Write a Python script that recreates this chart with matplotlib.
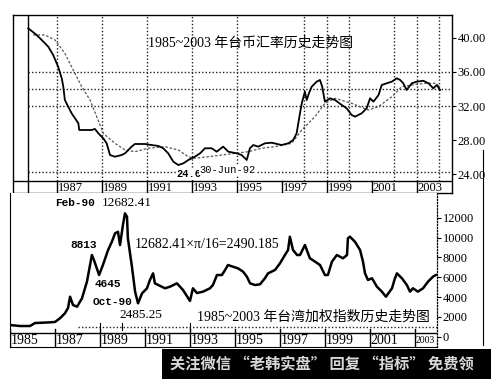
import matplotlib
matplotlib.use("Agg")
import matplotlib.pyplot as plt
from matplotlib.lines import Line2D
from matplotlib.patches import Rectangle

# --- data ---
rate_years = [1985.71, 1986.08, 1986.31, 1986.60, 1986.82, 1987.04, 1987.20, 1987.27, 1987.34, 1987.49,
              1987.64, 1987.79, 1987.94, 1987.98, 1988.23, 1988.53, 1988.68, 1988.83, 1989.05, 1989.20,
              1989.35, 1989.57, 1989.87, 1990.02, 1990.31, 1990.46, 1990.91, 1991.20, 1991.50, 1991.72,
              1991.94, 1992.17, 1992.39, 1992.62, 1992.84, 1993.13, 1993.36, 1993.58, 1993.88, 1994.10,
              1994.39, 1994.62, 1994.99, 1995.21, 1995.44, 1995.58, 1995.73, 1995.95, 1996.25, 1996.55,
              1996.99, 1997.29, 1997.51, 1997.66, 1997.81, 1997.89, 1998.03, 1998.11, 1998.21, 1998.33,
              1998.55, 1998.70, 1998.80, 1998.92, 1999.15, 1999.37, 1999.67, 1999.89, 2000.11, 2000.26,
              2000.56, 2000.78, 2000.93, 2001.08, 2001.31, 2001.45, 2001.67, 2001.90, 2002.12, 2002.27,
              2002.41, 2002.56, 2002.79, 2003.01, 2003.30, 2003.53, 2003.75, 2003.90, 2004.05]
rate_values = [41.11, 40.33, 39.74, 38.96, 37.98, 36.61, 35.26, 34.27, 32.71, 31.93,
               31.16, 30.57, 29.99, 29.20, 29.20, 29.20, 29.32, 28.81, 28.23, 27.64,
               26.27, 26.07, 26.27, 26.47, 27.25, 27.56, 27.56, 27.44, 27.33, 27.06,
               26.47, 25.49, 25.10, 25.30, 25.69, 26.07, 26.47, 27.06, 27.06, 26.66,
               27.25, 26.66, 26.47, 26.27, 25.69, 27.06, 27.44, 27.25, 27.64, 27.71,
               27.44, 27.64, 28.03, 28.81, 31.16, 32.33, 33.69, 32.71, 33.50, 34.27,
               34.86, 35.06, 34.27, 32.52, 32.91, 32.71, 32.13, 31.74, 30.96, 30.76,
               31.16, 31.74, 32.91, 32.52, 33.30, 34.47, 34.67, 34.86, 35.26, 35.06,
               34.67, 33.89, 34.67, 34.86, 34.97, 34.67, 34.08, 34.47, 33.89]

ma_years = [1985.93, 1986.45, 1986.90, 1987.34, 1987.71, 1988.09, 1988.46, 1988.76, 1989.05, 1989.57,
            1990.02, 1990.46, 1991.05, 1991.79, 1992.39, 1992.84, 1993.13, 1993.73, 1994.92, 1995.51,
            1996.10, 1996.70, 1997.44, 1997.89, 1998.18, 1998.48, 1998.92, 1999.37, 2000.11, 2000.85,
            2001.30, 2001.90, 2002.34, 2002.79, 2003.38, 2003.82, 2004.05]
ma_values = [40.33, 40.33, 39.74, 38.18, 36.23, 34.27, 32.71, 30.76, 28.81, 27.64,
             26.86, 26.66, 27.06, 27.25, 26.86, 26.07, 25.89, 26.07, 26.47, 26.66,
             27.06, 27.25, 27.64, 29.20, 29.99, 30.76, 32.33, 32.91, 32.33, 31.54,
             31.93, 33.10, 34.27, 34.47, 34.67, 34.67, 34.27]

idx_years = [1985.00, 1985.44, 1985.89, 1986.11, 1986.78, 1987.00, 1987.22, 1987.44, 1987.58, 1987.67,
             1987.80, 1987.98, 1988.20, 1988.42, 1988.64, 1988.73, 1988.96, 1989.13, 1989.36, 1989.53,
             1989.67, 1989.80, 1989.89, 1990.02, 1990.11, 1990.20, 1990.24, 1990.42, 1990.56, 1990.69,
             1990.87, 1991.09, 1991.22, 1991.36, 1991.44, 1991.89, 1992.11, 1992.42, 1992.69, 1993.00,
             1993.13, 1993.31, 1993.58, 1993.89, 1994.02, 1994.20, 1994.42, 1994.56, 1994.69, 1994.91,
             1995.13, 1995.36, 1995.53, 1995.67, 1995.89, 1996.11, 1996.33, 1996.47, 1996.78, 1997.00,
             1997.22, 1997.36, 1997.44, 1997.58, 1997.76, 1997.89, 1998.11, 1998.33, 1998.56, 1998.78,
             1999.00, 1999.13, 1999.31, 1999.53, 1999.80, 1999.98, 2000.02, 2000.11, 2000.33, 2000.56,
             2000.69, 2000.78, 2000.91, 2001.09, 2001.31, 2001.53, 2001.71, 2001.98, 2002.11, 2002.20,
             2002.42, 2002.64, 2002.78, 2002.91, 2003.13, 2003.36, 2003.58, 2003.80, 2003.93]
idx_values = [1180, 1080, 1080, 1380, 1450, 1490, 1860, 2360, 2900, 4040,
              3200, 3030, 3880, 5560, 8250, 7750, 6230, 7240, 8760, 9600,
              10440, 10600, 9260, 11280, 12460, 12120, 9940, 7070, 4550, 3370,
              4380, 4890, 5730, 6400, 5390, 4890, 5050, 5390, 4720, 3610,
              4890, 4410, 4550, 4890, 5220, 6230, 6230, 6740, 7240, 7070,
              6910, 6570, 6060, 5390, 5220, 5290, 5900, 6400, 6740, 7410,
              8250, 8760, 10100, 8760, 8250, 8250, 9260, 7920, 7580, 7240,
              6230, 6230, 7580, 8250, 7920, 8250, 9940, 10100, 9600, 8760,
              7580, 6400, 5730, 5900, 5050, 4550, 4040, 4890, 5900, 6400,
              5900, 5220, 4550, 4890, 4550, 4890, 5560, 6060, 6230]

rate_ticks = [24, 28, 32, 36, 40]
rate_grid = [32, 34, 36]
rate_min_line = 24.3
rate_grid_years = [1987, 1989, 1991, 1993, 1995, 1998, 1999, 2000, 2002, 2003, 2004]
top_year_labels = [1987, 1989, 1991, 1993, 1995, 1997, 1999, 2001, 2003]

idx_ticks = [0, 2000, 4000, 6000, 8000, 10000, 12000]
idx_grid = 1030
bot_year_labels = [1985, 1987, 1989, 1991, 1993, 1995, 1997, 1999, 2001, 2003]

title_top = "1985~2003 年台币汇率历史走势图"
title_bot = "1985~2003 年台湾加权指数历史走势图"
banner = "关注微信 “老韩实盘” 回复 “指标” 免费领"

SERIF = "Liberation Serif"
MONO = "Liberation Mono"
CJK = ["Liberation Serif", "Noto Sans CJK SC"]

W, H = 491, 379


def px_rect(x0, y0, x1, y1):
    return [x0 / W, 1 - y1 / H, (x1 - x0) / W, (y1 - y0) / H]


def ftext(x, y, s, **kw):
    kw.setdefault("va", "center")
    kw.setdefault("ha", "left")
    fig.text(x / W, 1 - y / H, s, **kw)


fig = plt.figure(figsize=(W / 100, H / 100), dpi=100)
fig.patch.set_facecolor("white")

dots = (0, (1, 1.5))
grid_kw = dict(color="#222222", lw=1.0, ls=dots)

# ---------------- top panel: exchange rate ----------------
ax1 = fig.add_axes(px_rect(13, 15, 452, 193))
ax1.set_xlim(1985.03, 2004.58)
ax1.set_ylim(21.82, 42.67)
for s in ax1.spines.values():
    s.set_linewidth(1.0)
ax1.set_xticks([])
ax1.yaxis.tick_right()
ax1.set_yticks(rate_ticks)
ax1.set_yticklabels(["%.2f" % v for v in rate_ticks], family=SERIF, fontsize=9)
ax1.tick_params(axis="y", direction="out", length=3, width=0.8, pad=1)

row1 = 0.065  # label row height (axes fraction)
ax1.plot([0, 1], [row1, row1], transform=ax1.transAxes, color="black", lw=1.0)
ax1.axvline(1985.70, color="black", lw=1.0)
for v in rate_grid:
    ax1.plot([1985.70, 2004.58], [v, v], **grid_kw)
ax1.plot([1985.70, 2004.58], [rate_min_line, rate_min_line], **grid_kw)
for yr in rate_grid_years:
    ax1.plot([yr, yr], [row1, 1], transform=ax1.get_xaxis_transform(), **grid_kw)
for yr in top_year_labels:
    ax1.plot([yr, yr], [0, row1], transform=ax1.get_xaxis_transform(), color="black", lw=1.0)
    ax1.text(yr + 0.05, row1 / 2 - 0.005, str(yr), transform=ax1.get_xaxis_transform(),
             family=SERIF, fontsize=9, va="center", ha="left")

ax1.plot(ma_years, ma_values, color="#555555", lw=0.9, ls=(0, (2, 1.5)))
ax1.plot(rate_years, rate_values, color="black", lw=1.3)

ftext(148, 43, title_top, family=CJK, fontsize=10)
ftext(176, 174, "24.6", family=MONO, fontsize=7.5, weight="bold",
      bbox=dict(facecolor="white", edgecolor="none", pad=0.3))
ftext(199, 170, "30-Jun-92", family=MONO, fontsize=7.5,
      bbox=dict(facecolor="white", edgecolor="none", pad=0.3))

# ---------------- bottom panel: TAIEX ----------------
ax2 = fig.add_axes(px_rect(10, 193, 437, 347))
ax2.set_xlim(1985.0, 2003.98)
ax2.set_ylim(-1040, 14514)
ax2.spines["top"].set_visible(False)
ax2.spines["right"].set_linestyle(dots)
ax2.spines["right"].set_linewidth(0.9)
ax2.set_xticks([])
ax2.yaxis.tick_right()
ax2.set_yticks(idx_ticks)
ax2.set_yticklabels([str(v) for v in idx_ticks], family=SERIF, fontsize=9)
ax2.tick_params(axis="y", direction="out", length=3, width=0.8, pad=1)

row2 = 0.091
ax2.plot([0, 1], [row2, row2], transform=ax2.transAxes, color="black", lw=1.0)
ax2.plot([1988.02, 2003.98], [idx_grid, idx_grid], **grid_kw)
for yr in [1989, 1990, 1993]:
    ax2.plot([yr, yr], [idx_grid - 400, idx_grid + 400], color="black", lw=0.8)
for yr in bot_year_labels:
    ax2.plot([yr, yr], [0, row2 + 0.025], transform=ax2.get_xaxis_transform(), color="black", lw=1.0)
    small = yr == 2003
    ax2.text(yr + 0.04, row2 / 2 - 0.005, str(yr), transform=ax2.get_xaxis_transform(),
             family=SERIF, fontsize=7 if small else 10, va="center", ha="left")

ax2.plot(idx_years, idx_values, color="black", lw=1.8)

ftext(55, 203.5, "Feb-90", family=MONO, fontsize=8, weight="bold")
ftext(102, 203, "12682.41", family=SERIF, fontsize=9.5)
ftext(70, 245, "8813", family=MONO, fontsize=8, weight="bold")
ftext(95, 284, "4645", family=MONO, fontsize=8, weight="bold")
ftext(93, 302, "Oct-90", family=MONO, fontsize=8, weight="bold")
ftext(119, 315, "2485.25", family=SERIF, fontsize=9.5)
ftext(135, 245, "12682.41×π/16=2490.185", family=SERIF, fontsize=10)
ftext(197, 317, title_bot, family=CJK, fontsize=10)

# outer frame piece on the right
fig.add_artist(Line2D([483 / W, 483 / W], [1 - 150 / H, 1 - 345 / H], color="black", lw=0.8))

# black banner at the bottom
fig.add_artist(Rectangle((162 / W, 0), (W - 162) / W, 30 / H, transform=fig.transFigure,
                         facecolor="black", edgecolor="none"))
ftext(170, 364, banner, family=["Noto Sans CJK SC", "DejaVu Sans"], fontsize=11,
      weight="bold", color="#d8d8d8")

fig.savefig("out.png", dpi=100)
